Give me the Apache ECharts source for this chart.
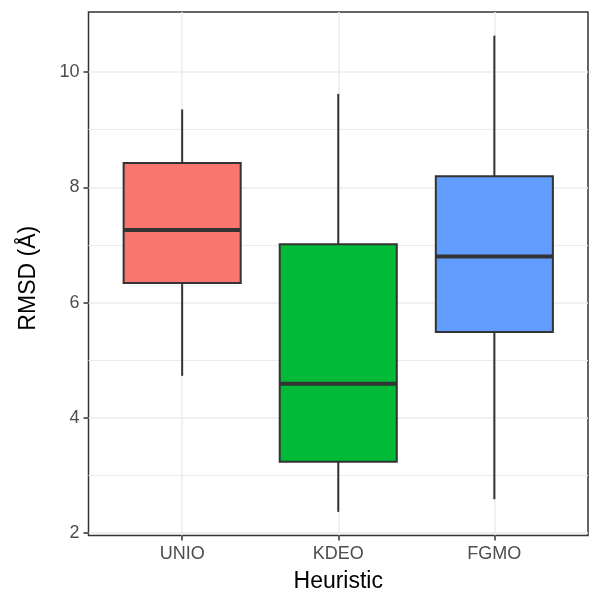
<!DOCTYPE html>
<html>
<head>
<meta charset="utf-8">
<script src="https://cdn.jsdelivr.net/npm/echarts@6/dist/echarts.min.js"></script>
<style>
  html, body { margin: 0; background: #fff; }
  #chart { width: 600px; height: 600px; }
</style>
</head>
<body>
<div id="chart"></div>
<script>
// box statistics per heuristic
const categories = ['UNIO', 'KDEO', 'FGMO']
const whiskerLow = [4.73, 2.37, 2.59]
const q1 = [6.34, 3.24, 5.49]
const median = [7.26, 4.59, 6.80]
const q3 = [8.42, 7.01, 8.19]
const whiskerHigh = [9.35, 9.62, 10.63]
const yTicks = [2, 4, 6, 8, 10]
const yMinorTicks = [3, 5, 7, 9]

const palette = ['#F8766D', '#00BA38', '#619CFF']
const font = 'Liberation Sans, Arial, sans-serif'
const ink = '#333333'

const xPos = categories.map((c, i) => i + 1)
const boxData = categories.map((c, i) => [xPos[i], whiskerLow[i], q1[i], median[i], q3[i], whiskerHigh[i]])

function renderBox(params, api) {
  const x = api.value(0)
  const half = api.size([0.75, 0])[0] / 2
  const pLow = api.coord([x, api.value(1)])
  const pQ1 = api.coord([x, api.value(2)])
  const pMed = api.coord([x, api.value(3)])
  const pQ3 = api.coord([x, api.value(4)])
  const pHigh = api.coord([x, api.value(5)])
  const line = { stroke: ink, lineWidth: 2 }
  return {
    type: 'group',
    children: [
      { type: 'line', shape: { x1: pLow[0], y1: pLow[1], x2: pQ1[0], y2: pQ1[1] }, style: line },
      { type: 'line', shape: { x1: pQ3[0], y1: pQ3[1], x2: pHigh[0], y2: pHigh[1] }, style: line },
      {
        type: 'rect',
        shape: { x: pQ3[0] - half, y: pQ3[1], width: half * 2, height: pQ1[1] - pQ3[1] },
        style: { fill: palette[params.dataIndex], stroke: ink, lineWidth: 2 }
      },
      { type: 'line', shape: { x1: pMed[0] - half, y1: pMed[1], x2: pMed[0] + half, y2: pMed[1] }, style: { stroke: ink, lineWidth: 4 } }
    ]
  }
}

const chart = echarts.init(document.getElementById('chart'))

const option = {
  backgroundColor: '#fff',
  animation: false,
  grid: {
    left: 88.5, right: 12, top: 12, bottom: 64.5,
    show: true, borderColor: ink, borderWidth: 1.5, backgroundColor: '#fff'
  },
  xAxis: {
    type: 'value', min: 0.4, max: 3.6,
    axisLine: { show: false },
    axisTick: { show: true, length: 5, customValues: xPos, lineStyle: { color: ink, width: 1.5 } },
    axisLabel: {
      customValues: xPos,
      formatter: v => categories[Math.round(v) - 1],
      fontSize: 18, color: '#4D4D4D', margin: 10, fontFamily: font
    },
    splitLine: { show: true, lineStyle: { color: '#EBEBEB', width: 1.5 } },
    name: 'Heuristic', nameLocation: 'middle', nameGap: 35,
    nameTextStyle: { fontSize: 23, color: '#000', fontFamily: font }
  },
  yAxis: [
    {
      type: 'value', min: 1.96, max: 11.04,
      axisLine: { show: false },
      axisTick: { show: true, length: 5, customValues: yTicks, lineStyle: { color: ink, width: 1.5 } },
      axisLabel: { customValues: yTicks, fontSize: 18, color: '#4D4D4D', margin: 9, fontFamily: font },
      splitLine: { show: true, lineStyle: { color: '#EBEBEB', width: 1.5 } },
      name: 'RMSD (Å)', nameLocation: 'middle', nameGap: 48, nameRotate: 90,
      nameTextStyle: { fontSize: 23, color: '#000', fontFamily: font, padding: [0, 9, 0, 0] }
    },
    {
      // minor grid lines
      type: 'value', min: 1.96, max: 11.04,
      axisLine: { show: false },
      axisTick: { show: false, customValues: yMinorTicks },
      axisLabel: { show: false },
      splitLine: { show: true, lineStyle: { color: '#EBEBEB', width: 1 } }
    }
  ],
  series: [{
    type: 'custom',
    renderItem: renderBox,
    data: boxData,
    encode: { x: 0, y: [1, 2, 3, 4, 5] },
    z: 3
  }]
}

chart.setOption(option)
</script>
</body>
</html>
